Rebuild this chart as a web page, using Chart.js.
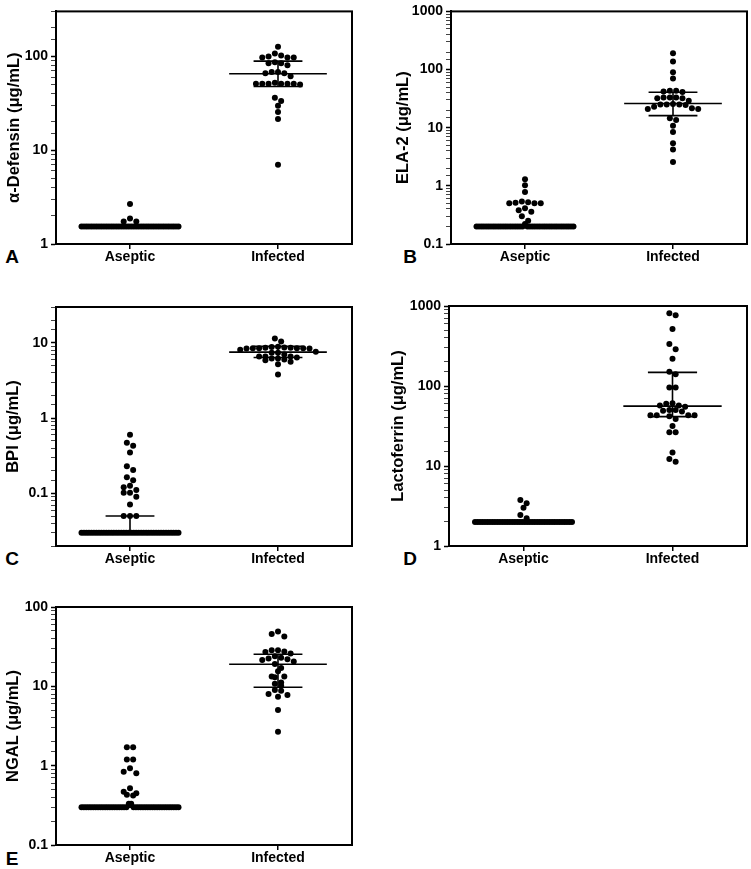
<!DOCTYPE html>
<html><head><meta charset="utf-8">
<script src="https://cdn.jsdelivr.net/npm/chart.js@4"></script>
<style>
html,body{margin:0;padding:0;background:#fff}
body{width:751px;height:869px;position:relative;overflow:hidden;font-family:"Liberation Sans",Arial,sans-serif}
.pane{position:absolute}
.letter{position:absolute;font-weight:bold;font-size:19px;line-height:1;transform:translate(-50%,-50%);color:#000}
</style></head><body>
<div class="letter" style="left:12px;top:256px">A</div>
<div class="letter" style="left:410px;top:256px">B</div>
<div class="letter" style="left:12px;top:558px">C</div>
<div class="letter" style="left:410px;top:558px">D</div>
<div class="letter" style="left:12px;top:858px">E</div>
<script>
// ---------- DATA ----------
const groups = ['Aseptic', 'Infected'];

// A: alpha-Defensin
const defAseptic = [2.67, 1.87, 1.74, 1.74,
  1.54,1.54,1.54,1.54,1.54,1.54,1.54,1.54,1.54,1.54,1.54,1.54,1.54,1.54,1.54,1.54,1.54,1.54,1.54,1.54,
  1.54,1.54,1.54,1.54,1.54,1.54,1.54,1.54,1.54,1.54,1.54,1.54,1.54,1.54,1.54,1.54,1.54,1.54,1.54,1.54];
const defInfected = [126, 107, 102, 99, 97, 97, 97, 86, 84, 84, 80, 68, 68, 66, 66, 61,
  52, 51, 51, 51, 51, 51, 51, 50, 36.2, 33.4, 29.6, 25.4, 21.5, 7.0];
const defMedian = [1.54, 65];
const defQ1 = [1.54, 47.5];
const defQ3 = [1.54, 88.7];

// B: ELA-2
const elaAseptic = [1.3, 1.02, 0.78, 0.54, 0.52, 0.51, 0.5, 0.5, 0.5, 0.41, 0.38, 0.36, 0.3, 0.25, 0.22,
  0.2,0.2,0.2,0.2,0.2,0.2,0.2,0.2,0.2,0.2,0.2,0.2,0.2,0.2,0.2,0.2,0.2,0.2,0.2,0.2,
  0.2,0.2,0.2,0.2,0.2,0.2,0.2,0.2,0.2,0.2,0.2,0.2,0.2,0.2,0.2,0.2,0.2,0.2,0.2,0.2];
const elaInfected = [190, 137, 90, 70, 43, 43, 42, 41, 33, 33, 33, 32, 32, 29, 25.5, 25, 25, 25, 24.5,
  23, 21.5, 21, 21, 14.5, 13.6, 10.8, 8.4, 5.4, 4.2, 2.57];
const elaMedian = [0.2, 26];
const elaQ1 = [0.2, 16.1];
const elaQ3 = [0.2, 40.6];

// C: BPI
const bpiAseptic = [0.6, 0.47, 0.43, 0.35, 0.23, 0.205, 0.164, 0.149, 0.126, 0.121, 0.111, 0.102, 0.102,
  0.09, 0.071, 0.05, 0.05, 0.05,
  0.03,0.03,0.03,0.03,0.03,0.03,0.03,0.03,0.03,0.03,0.03,0.03,0.03,0.03,0.03,0.03,0.03,0.03,0.03,0.03,
  0.03,0.03,0.03,0.03,0.03,0.03,0.03,0.03,0.03,0.03,0.03,0.03,0.03,0.03,0.03,0.03,0.03,0.03,0.03,0.03];
const bpiInfected = [11.4, 10.4, 8.9, 8.8, 8.7, 8.6, 8.6, 8.5, 8.5, 8.5, 8.5, 8.4, 8.4, 8.1,
  7.6, 7.4, 7.4, 7.0, 6.6, 6.6, 6.6, 6.4, 6.2, 6.2, 6.0, 5.9, 5.6, 5.2, 3.8];
const bpiMedian = [0.03, 7.55];
const bpiQ1 = [0.03, 6.4];
const bpiQ3 = [0.05, 9.0];

// D: Lactoferrin
const lacAseptic = [3.76, 3.42, 3.01, 2.44, 2.22,
  2,2,2,2,2,2,2,2,2,2,2,2,2,2,2,2,2,2,2,2,2,2,2,2,2,2,2,2,2,2,2,2,2,2,2,2,2,2,2,2];
const lacInfected = [811, 765, 516, 335, 288, 219, 151, 140, 96, 96, 61, 60, 57, 57, 55, 50, 50, 49, 48,
  43, 43, 43, 43, 42, 38.7, 31.6, 26.4, 26.4, 14.7, 12.2, 11.3];
const lacMedian = [2, 56];
const lacQ1 = [2, 41.4];
const lacQ3 = [2, 148];

// E: NGAL
const ngalAseptic = [1.71, 1.71, 1.2, 1.2, 0.93, 0.84, 0.8, 0.52, 0.47, 0.45, 0.43, 0.42, 0.33, 0.33,
  0.3,0.3,0.3,0.3,0.3,0.3,0.3,0.3,0.3,0.3,0.3,0.3,0.3,0.3,0.3,0.3,0.3,0.3,0.3,0.3,
  0.3,0.3,0.3,0.3,0.3,0.3,0.3,0.3,0.3,0.3,0.3,0.3,0.3,0.3,0.3,0.3,0.3,0.3,0.3,0.3];
const ngalInfected = [49, 45.8, 42.4, 28.6, 28.6, 27.4, 27, 26, 24, 23, 22.5, 22, 21.5, 20.5, 19.1, 17,
  15.5, 13.3, 13.3, 13, 11.2, 10.8, 10.2, 9, 8.8, 8, 7.8, 7.4, 5.04, 2.68];
const ngalMedian = [0.3, 19];
const ngalQ1 = [0.3, 9.75];
const ngalQ3 = [0.3, 25.4];

// axis ranges and titles
const yTitles = ['α-Defensin (μg/mL)', 'ELA-2 (μg/mL)', 'BPI (μg/mL)', 'Lactoferrin (μg/mL)', 'NGAL (μg/mL)'];
const yMins = [1, 0.1, 0.02, 1, 0.1];
const yMaxs = [300, 1000, 30, 1000, 100];

// ---------- LAYOUT / STYLE ----------
const panels = [
  {left:0,   top:0,   w:375, h:275, L:56, T:6,  R:352, B:244, tpad:4.2,  a:defAseptic,  i:defInfected,  med:defMedian,  q1:defQ1,  q3:defQ3},
  {left:375, top:0,   w:376, h:275, L:76, T:5,  R:372, B:244, tpad:18.2, a:elaAseptic,  i:elaInfected,  med:elaMedian,  q1:elaQ1,  q3:elaQ3},
  {left:0,   top:275, w:375, h:300, L:56, T:32, R:352, B:271, tpad:3.7,  a:bpiAseptic,  i:bpiInfected,  med:bpiMedian,  q1:bpiQ1,  q3:bpiQ3},
  {left:375, top:275, w:376, h:300, L:74, T:31, R:372, B:271, tpad:13.2, a:lacAseptic,  i:lacInfected,  med:lacMedian,  q1:lacQ1,  q3:lacQ3},
  {left:0,   top:575, w:375, h:294, L:56, T:32, R:352, B:270, tpad:3.2,  a:ngalAseptic, i:ngalInfected, med:ngalMedian, q1:ngalQ1, q3:ngalQ3}
];
const FONT = '"Liberation Sans", Arial, sans-serif';
const DOT_R = 3.0, DOT_GAP = 6.3, MAX_ROW = 97, ROW_GAP = 5.5;
const MED_HALF = 0.33, IQR_HALF = 0.165;

const framePlugin = {
  id: 'frame',
  afterDraw(chart) {
    const {ctx, chartArea: a} = chart;
    ctx.save();
    ctx.strokeStyle = '#000';
    ctx.lineWidth = 2;
    ctx.strokeRect(a.left, a.top, a.right - a.left, a.bottom - a.top);
    ctx.restore();
  }
};

function isMajor(v) {
  const l = Math.log10(v);
  return Math.abs(l - Math.round(l)) < 1e-6;
}

function swarm(chart, vals, cx) {
  const ys = chart.scales.y, xs = chart.scales.x;
  const cpx = xs.getPixelForValue(cx);
  const pts = vals.map(v => ({v, py: ys.getPixelForValue(v)})).sort((a, b) => a.py - b.py);
  const rows = [];
  let cur = null;
  for (const p of pts) {
    if (cur && p.py - cur[0].py < ROW_GAP) cur.push(p);
    else { cur = [p]; rows.push(cur); }
  }
  const out = [];
  for (const row of rows) {
    const n = row.length;
    const sp = n > 1 ? Math.min(DOT_GAP, MAX_ROW / (n - 1)) : 0;
    const slots = [];
    for (let j = 0; j < n; j++) slots.push((j - (n - 1) / 2) * sp);
    slots.sort((a, b) => Math.abs(a) - Math.abs(b) || a - b);
    row.forEach((p, k) => out.push({x: xs.getValueForPixel(cpx + slots[k]), y: p.v}));
  }
  return out;
}

function seg(data) {
  return {data, showLine: true, pointRadius: 0, pointHoverRadius: 0, borderColor: '#000', borderWidth: 1.6, fill: false};
}

panels.forEach((p, idx) => {
  const div = document.createElement('div');
  div.className = 'pane';
  div.style.left = p.left + 'px'; div.style.top = p.top + 'px';
  div.style.width = p.w + 'px'; div.style.height = p.h + 'px';
  const cv = document.createElement('canvas');
  cv.width = p.w; cv.height = p.h;
  cv.style.width = p.w + 'px'; cv.style.height = p.h + 'px';
  div.appendChild(cv);
  document.body.appendChild(div);

  const datasets = [];
  [0, 1].forEach(g => {
    const cx = g + 1;
    datasets.push(seg([{x: cx - MED_HALF, y: p.med[g]}, {x: cx + MED_HALF, y: p.med[g]}]));
    datasets.push(seg([{x: cx - IQR_HALF, y: p.q1[g]}, {x: cx + IQR_HALF, y: p.q1[g]}]));
    datasets.push(seg([{x: cx - IQR_HALF, y: p.q3[g]}, {x: cx + IQR_HALF, y: p.q3[g]}]));
    datasets.push(seg([{x: cx, y: p.q1[g]}, {x: cx, y: p.q3[g]}]));
  });
  const dotStyle = {pointRadius: DOT_R, pointHoverRadius: DOT_R, pointBackgroundColor: '#000', pointBorderWidth: 0, showLine: false};
  datasets.push(Object.assign({data: []}, dotStyle));
  datasets.push(Object.assign({data: []}, dotStyle));

  const chart = new Chart(cv.getContext('2d'), {
    type: 'scatter',
    data: {datasets},
    options: {
      responsive: false, animation: false, devicePixelRatio: 1,
      events: [],
      plugins: {legend: {display: false}, tooltip: {enabled: false}},
      layout: {padding: {top: p.T, right: p.w - p.R, left: 0, bottom: 0}},
      scales: {
        x: {
          type: 'linear', min: 0.5, max: 2.5,
          afterBuildTicks: s => { s.ticks = [{value: 1}, {value: 2}]; },
          afterFit: s => { s.height = p.h - p.B; },
          ticks: {callback: v => groups[v - 1] || '', color: '#000', padding: 0, maxRotation: 0, autoSkip: false,
                  font: {family: FONT, size: 14, weight: 'bold'}},
          grid: {drawOnChartArea: false, tickLength: 5, color: '#000', lineWidth: 1.5},
          border: {color: '#000', width: 2}
        },
        y: {
          type: 'logarithmic', min: yMins[idx], max: yMaxs[idx],
          afterFit: s => { s.width = p.L; },
          ticks: {autoSkip: false, color: '#000', padding: 3,
                  font: {family: FONT, size: 14, weight: 'bold'},
                  callback: v => isMajor(v) ? (v >= 1 ? String(Math.round(v)) : String(+v.toPrecision(1))) : ''},
          grid: {drawOnChartArea: false, tickLength: 5,
                 tickColor: c => (c.tick && isMajor(c.tick.value)) ? '#000' : '#444',
                 tickWidth: c => (c.tick && isMajor(c.tick.value)) ? 1.5 : 1},
          border: {color: '#000', width: 2},
          title: {display: true, text: yTitles[idx], color: '#000', padding: {top: p.tpad, bottom: 0},
                  font: {family: FONT, size: 16.5, weight: 'bold'}}
        }
      }
    },
    plugins: [framePlugin]
  });

  const n = datasets.length;
  chart.data.datasets[n - 2].data = swarm(chart, p.a, 1);
  chart.data.datasets[n - 1].data = swarm(chart, p.i, 2);
  chart.update();
});
</script>
</body></html>
